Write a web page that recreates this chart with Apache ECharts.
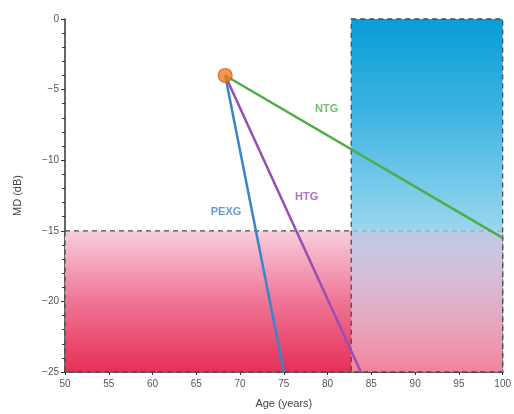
<!DOCTYPE html>
<html>
<head>
<meta charset="utf-8">
<script src="https://cdn.jsdelivr.net/npm/echarts@6/dist/echarts.min.js"></script>
<style>html,body{margin:0;padding:0;background:#fff}#c{width:514px;height:414px}</style>
</head>
<body>
<div id="c"></div>
<script>
// Data
const startPoint = [68.3, -4];
const ntgEnd = [100, -15.5];
const htgEnd = [83.8, -25];
const pexgEnd = [75, -25];
const seriesNames = ['NTG', 'HTG', 'PEXG'];
const labelPos = [[79.9, -6.4], [77.6, -12.6], [68.4, -13.7]];
const thresholdMD = -15;
const thresholdAge = 82.7;
const xTicks = [50, 55, 60, 65, 70, 75, 80, 85, 90, 95, 100];
const yTicks = [0, -5, -10, -15, -20, -25];

const colors = {NTG: '#4fad49', HTG: '#9a4db4', PEXG: '#3b83cb'};
const lineEnds = {NTG: ntgEnd, HTG: htgEnd, PEXG: pexgEnd};
const xMin = xTicks[0], xMax = xTicks[xTicks.length - 1];
const yMin = yTicks[yTicks.length - 1], yMax = yTicks[0];

const chart = echarts.init(document.getElementById('c'));
const lineSeries = seriesNames.map(n => ({
  type: 'line', name: n, data: [startPoint, lineEnds[n]], symbol: 'none',
  lineStyle: {color: colors[n], width: 2.5}, z: 3, silent: true
}));
const labelSeries = seriesNames.map((n, i) => ({
  type: 'scatter', data: [labelPos[i]], symbolSize: 0, z: 4,
  label: {show: true, position: 'inside', formatter: n, color: colors[n], fontWeight: 'bold', fontSize: 11, fontFamily: 'Liberation Sans'}
}));
const grad = stops => ({type: 'linear', x: 0, y: 0, x2: 0, y2: 1, colorStops: stops.map(s => ({offset: s[0], color: s[1]}))});
const dashed = {borderColor: '#4a4a55', borderWidth: 1.3, borderType: [5, 4]};
chart.setOption({
  animation: false,
  grid: {left: 65, right: 11, top: 19, bottom: 42},
  xAxis: {
    type: 'value', min: xMin, max: xMax, interval: 5,
    name: 'Age (years)', nameLocation: 'middle', nameGap: 26,
    nameTextStyle: {color: '#444', fontSize: 11, fontFamily: 'Liberation Sans'},
    axisLine: {onZero: false, lineStyle: {color: '#333', width: 1.5}},
    axisTick: {show: true, length: 3, lineStyle: {color: '#333'}},
    axisLabel: {color: '#555', fontSize: 10, margin: 7, fontFamily: 'Liberation Sans'},
    splitLine: {show: false}
  },
  yAxis: {
    type: 'value', min: yMin, max: yMax, interval: 5,
    name: 'MD (dB)', nameLocation: 'middle', nameGap: 42, nameRotate: 90,
    nameTextStyle: {color: '#444', fontSize: 11, fontFamily: 'Liberation Sans'},
    axisLine: {show: true, onZero: false, lineStyle: {color: '#333', width: 1.5}},
    axisTick: {show: true, length: 4, lineStyle: {color: '#333'}},
    minorTick: {show: true, splitNumber: 5, length: 3, lineStyle: {color: '#333'}},
    axisLabel: {color: '#555', fontSize: 10, margin: 6, fontFamily: 'Liberation Sans',
      formatter: v => v < 0 ? '\u2212' + Math.abs(v) : String(v)},
    splitLine: {show: false}
  },
  series: [
    {
      type: 'line', data: [], z: 1, silent: true,
      markArea: {
        silent: true,
        data: [
          [{coord: [xMin, thresholdMD], itemStyle: Object.assign({
              color: grad([[0, '#f8cfdd'], [0.5, '#ef7595'], [1, '#e62f57']])}, dashed)},
           {coord: [xMax, yMin]}],
          [{coord: [thresholdAge, yMax], itemStyle: {
              color: grad([[0, '#079dd6'], [0.45, '#3fb4e2'], [1, '#9ad7ee']]), borderWidth: 0}},
           {coord: [xMax, thresholdMD]}],
          [{coord: [thresholdAge, thresholdMD], itemStyle: {
              color: grad([[0, 'rgba(165,198,236,0.7)'], [1, 'rgba(255,255,255,0.4)']]), borderWidth: 0}},
           {coord: [xMax, yMin]}],
          [{coord: [thresholdAge, yMax], itemStyle: Object.assign({color: 'rgba(0,0,0,0)'}, dashed)},
           {coord: [xMax, yMin]}]
        ]
      }
    },
    ...lineSeries,
    {
      type: 'scatter', data: [startPoint], symbolSize: 14, z: 5,
      itemStyle: {color: '#f27a22', borderColor: '#d35a12', borderWidth: 1.2}
    },
    ...labelSeries
  ]
});
</script>
</body>
</html>
